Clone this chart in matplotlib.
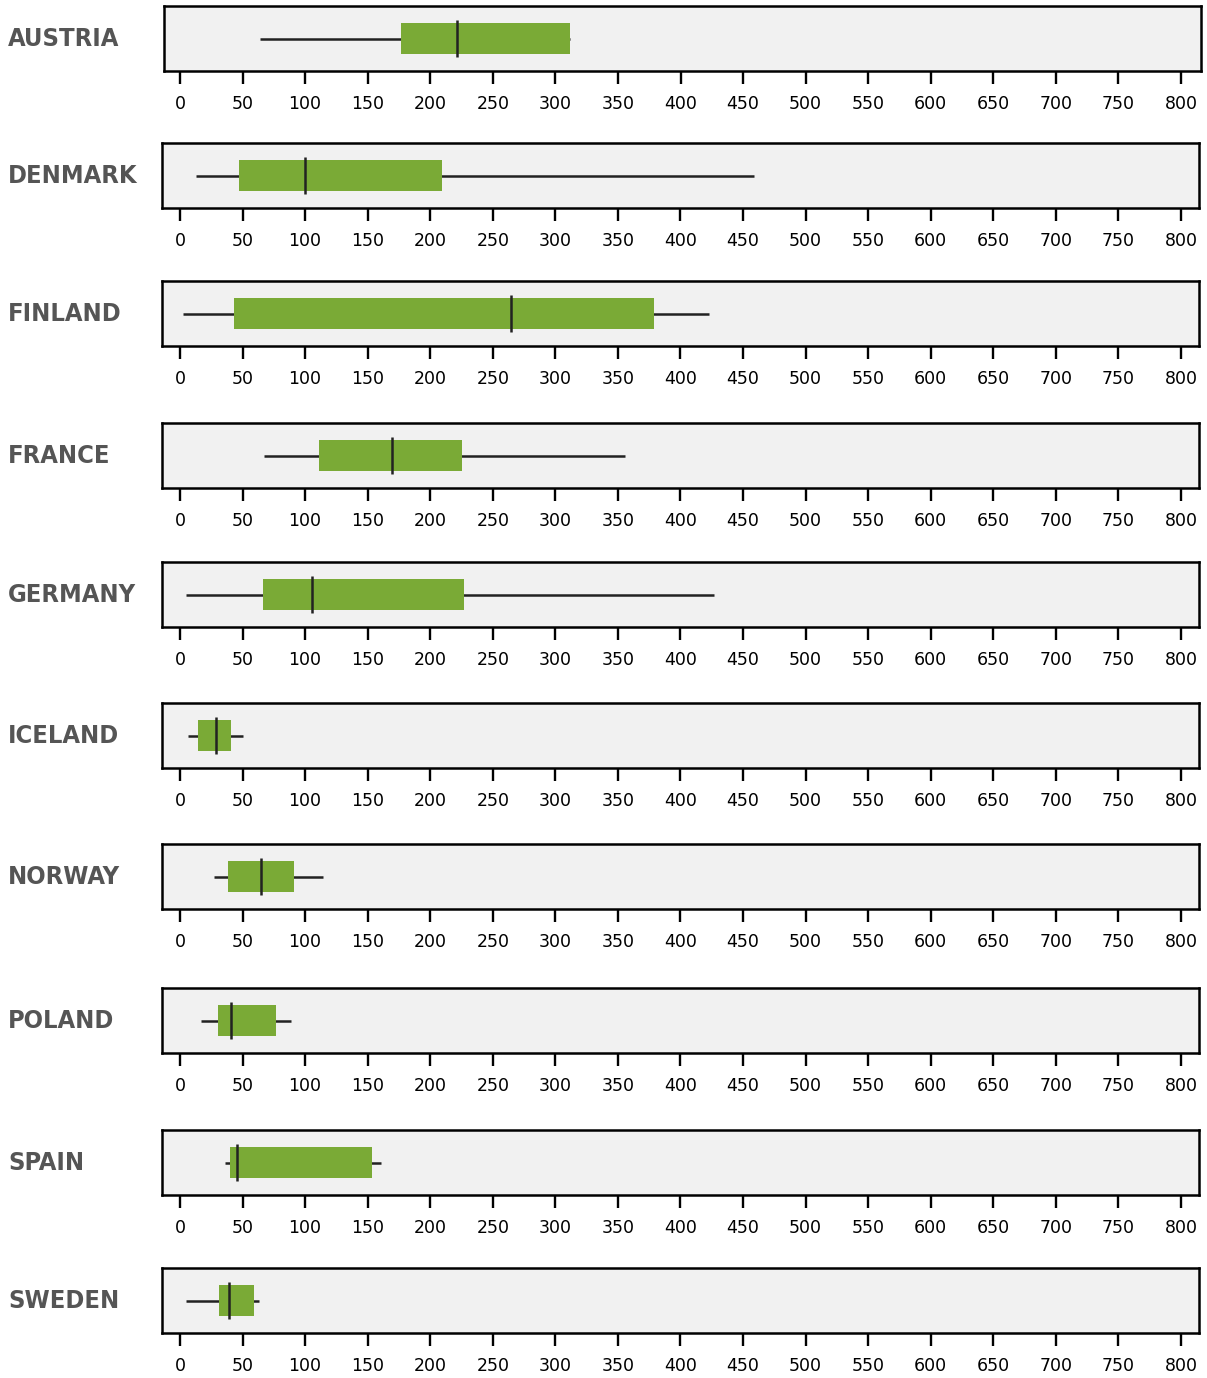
import matplotlib
matplotlib.use("Agg")
import matplotlib.pyplot as plt

countries = ["AUSTRIA", "DENMARK", "FINLAND", "FRANCE", "GERMANY",
             "ICELAND", "NORWAY", "POLAND", "SPAIN", "SWEDEN"]
whisker_low = [64, 13, 2.5, 67, 5, 6, 27.5, 17, 36, 4.5]
q1 = [177, 47, 43, 111, 66.5, 14.5, 38, 30, 40, 31]
median = [221, 100, 264.5, 169.5, 105.5, 28.5, 64.5, 41, 45.5, 39]
q3 = [312, 209, 379, 225, 227, 40.5, 91, 77, 153.5, 59]
whisker_high = [312, 459, 423, 356, 427, 50, 114.5, 89, 161, 63]
ticks = list(range(0, 801, 50))

W, H = 1207, 1378
fig = plt.figure(figsize=(W / 100, H / 100), dpi=100)

tops = [6, 143, 281, 423, 562, 703, 844, 988, 1130, 1268]
lefts = [164, 162, 162, 162, 162, 162, 162, 162, 162, 162]
ph = 65
pw = 1037
px_per_unit = (1181 - 180) / 800.0

green = "#7aaa36"
dark = "#222222"

for i, name in enumerate(countries):
    left = lefts[i]
    top = tops[i]
    ax = fig.add_axes([left / W, 1 - (top + ph) / H, pw / W, ph / H])
    ax.set_facecolor("#f1f1f1")
    x0 = (left - 180) / px_per_unit
    x1 = (left + pw - 180) / px_per_unit
    ax.set_xlim(x0, x1)
    ax.set_ylim(-0.5, 0.5)
    ax.hlines(0, whisker_low[i], whisker_high[i], color=dark, lw=1.8, zorder=2)
    ax.barh(0, q3[i] - q1[i], left=q1[i], height=0.47, color=green, zorder=3)
    ax.vlines(median[i], -0.29, 0.29, color=dark, lw=1.8, zorder=4)
    for s in ax.spines.values():
        s.set_linewidth(1.8)
        s.set_color("black")
    ax.set_yticks([])
    ax.set_xticks(ticks)
    ax.set_xticklabels([str(t) for t in ticks])
    ax.tick_params(axis="x", length=9, width=1.7, pad=8, labelsize=12.5,
                   colors="black", direction="out")
    fig.text(8 / W, 1 - (top + 33) / H, name, ha="left", va="center",
             fontsize=18.3, fontweight="bold", color="#555555",
             family="DejaVu Sans", fontstretch="condensed")

fig.savefig("out.png", dpi=100)
